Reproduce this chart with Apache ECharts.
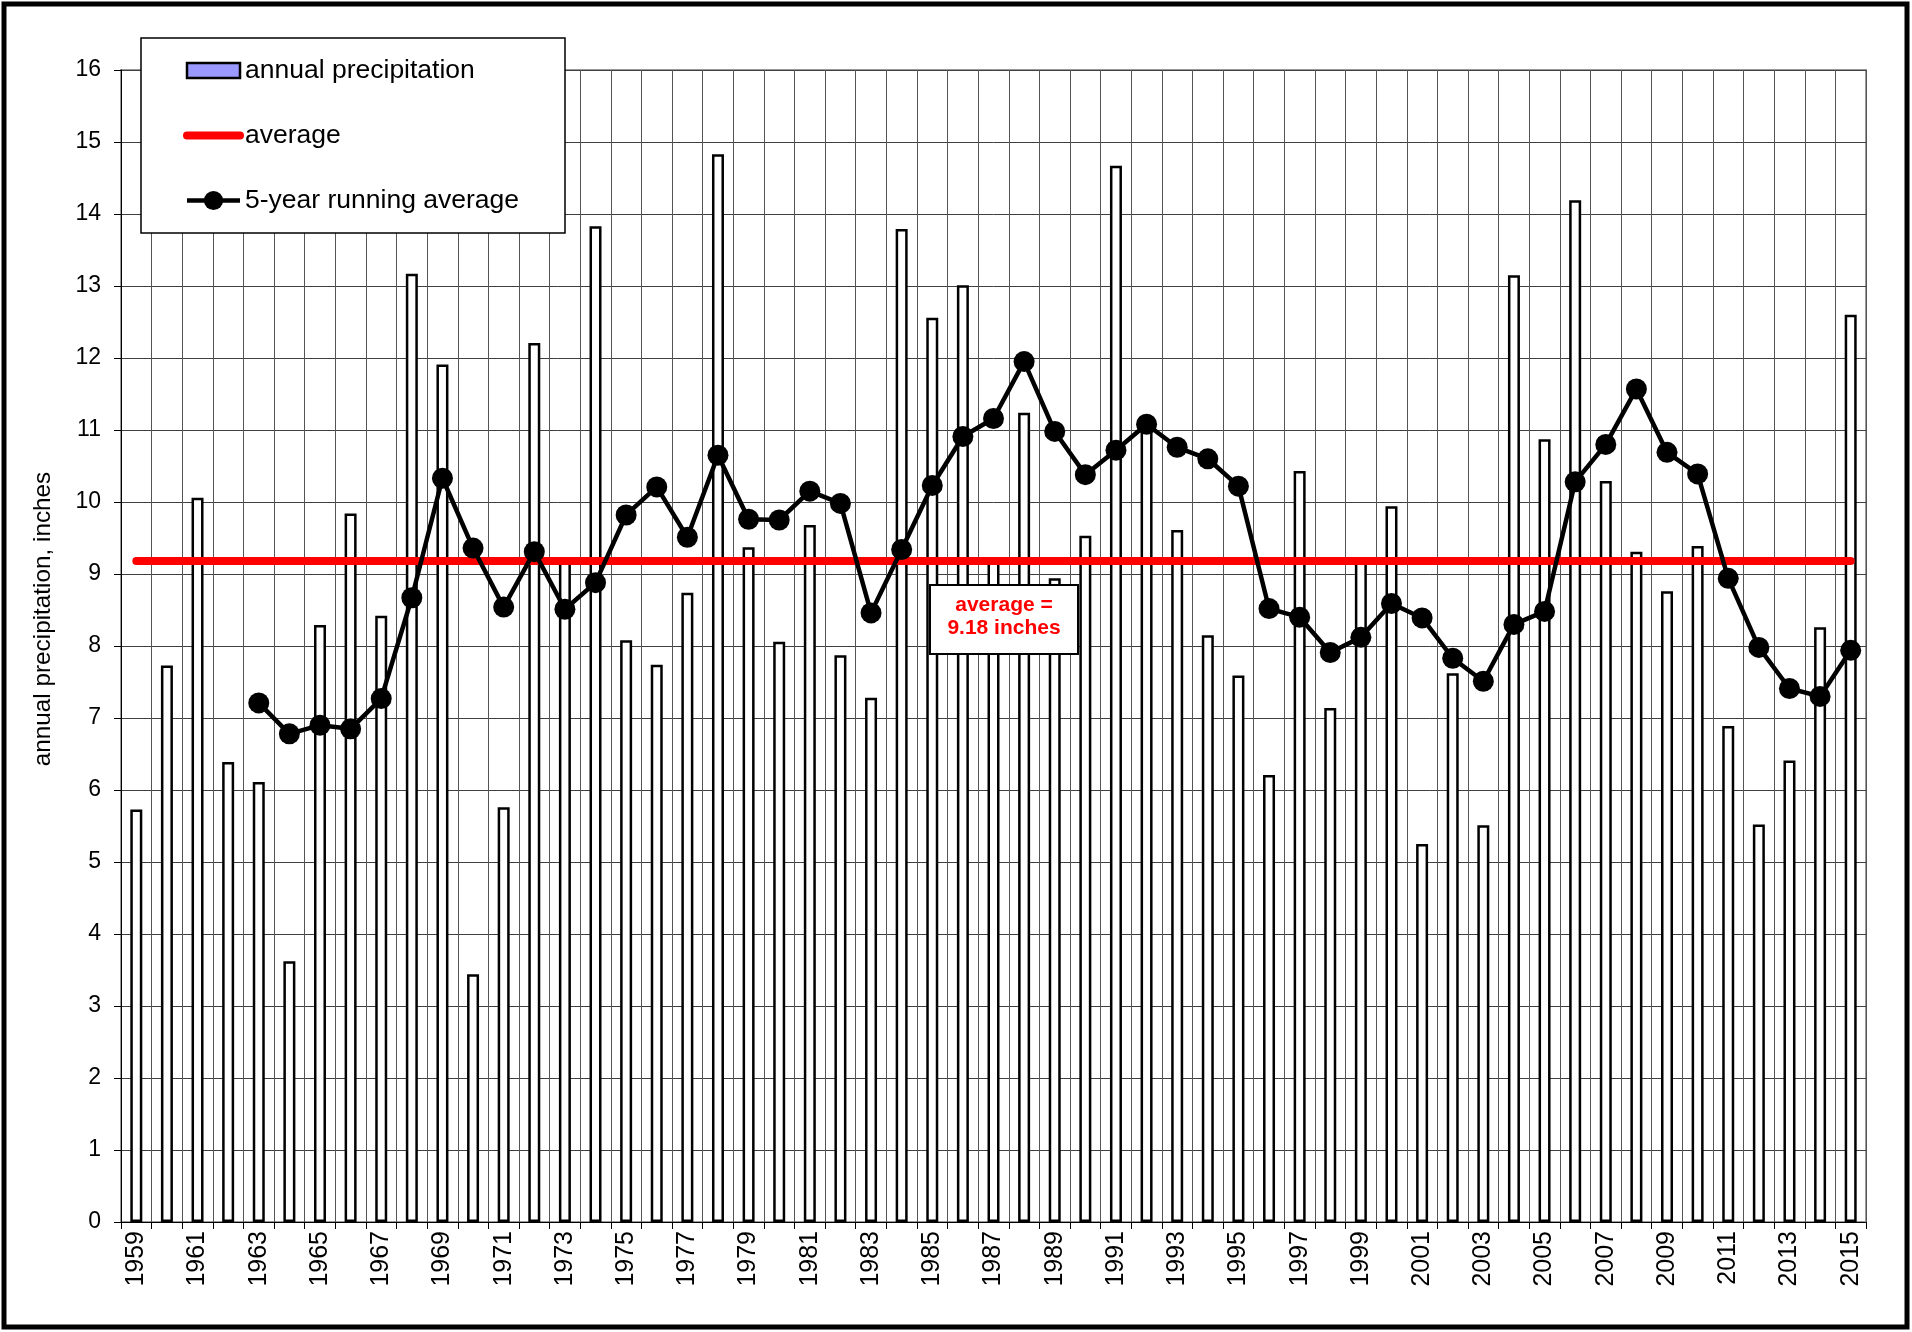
<!DOCTYPE html>
<html>
<head>
<meta charset="utf-8">
<script src="https://cdn.jsdelivr.net/npm/echarts@6/dist/echarts.min.js"></script>
<style>
  html, body { margin: 0; padding: 0; background: #fff; }
  #main { width: 1912px; height: 1332px; }
</style>
</head>
<body>
<div id="main"></div>
<script>
// years on the x axis
var years = [];
for (var y = 1959; y <= 2015; y++) years.push(String(y));

// annual precipitation, inches
var precip = [
  5.73, 7.73, 10.06, 6.39, 6.11, 3.62, 8.29, 9.84, 8.42, 13.17,
  11.91, 3.44, 5.76, 12.21, 9.2, 13.83, 8.08, 7.74, 8.74, 14.83,
  9.37, 8.06, 9.68, 7.87, 7.28, 13.79, 12.56, 13.01, 9.2, 11.24,
  8.94, 9.53, 14.67, 11.03, 9.61, 8.15, 7.59, 6.21, 10.43, 7.14,
  9.2, 9.94, 5.25, 7.62, 5.51, 13.15, 10.87, 14.19, 10.29, 9.31,
  8.76, 9.39, 6.89, 5.52, 6.41, 8.26, 12.6
];

// 5-year running average (first four years have none)
var running = [
  null, null, null, null, 7.21, 6.78, 6.90, 6.85, 7.27, 8.67,
  10.33, 9.36, 8.54, 9.31, 8.51, 8.88, 9.82, 10.21, 9.51, 10.65,
  9.76, 9.75, 10.15, 9.98, 8.46, 9.34, 10.23, 10.91, 11.16, 11.95,
  10.98, 10.38, 10.72, 11.08, 10.76, 10.60, 10.22, 8.52, 8.40, 7.91,
  8.12, 8.59, 8.39, 7.83, 7.51, 8.30, 8.48, 10.28, 10.80, 11.57,
  10.69, 10.39, 8.94, 7.98, 7.41, 7.30, 7.94
];

var avgValue = 9.18;
var average = years.map(function () { return avgValue; });

var font = "'Liberation Sans', Arial, sans-serif";

var myChart = echarts.init(document.getElementById("main"));
myChart.setOption({
  animation: false,
  backgroundColor: "#fff",
  textStyle: { fontFamily: font, color: "#000" },
  grid: {
    left: 121,
    right: 46,
    top: 70,
    bottom: 110,
    show: true,
    borderColor: "#999",
    borderWidth: 2,
  },
  legend: {
    orient: "vertical",
    left: 141,
    top: 38,
    padding: [19, 46, 19, 42],
    itemGap: 38,
    itemWidth: 53,
    itemHeight: 24,
    backgroundColor: "#fff",
    borderColor: "#000",
    borderWidth: 1.5,
    textStyle: { fontSize: 26.5, color: "#000", fontFamily: font },
    data: [
      {
        name: "annual precipitation",
        // rect 53x15 centred in the 53x24 icon box
        icon: "path://M0,0M0,4.5h53v15h-53zM53,24",
        itemStyle: { color: "#9999ff", borderColor: "#000", borderWidth: 2.5 },
      },
      {
        name: "average",
        itemStyle: { opacity: 0 },
        lineStyle: { color: "#ff0000", width: 8, cap: "round" },
      },
      {
        name: "5-year running average",
        itemStyle: { color: "#000" },
        lineStyle: { color: "#000", width: 4.5 },
      },
    ],
  },
  xAxis: {
    type: "category",
    data: years,
    boundaryGap: true,
    axisLine: { lineStyle: { color: "#000", width: 1 } },
    axisTick: { show: true, interval: 0, length: 7, lineStyle: { color: "#000" } },
    axisLabel: {
      interval: 1,
      rotate: 90,
      fontSize: 25,
      color: "#000",
      margin: 9,
      fontFamily: font,
    },
    splitLine: { show: true, interval: 0, lineStyle: { color: "#555", width: 1 } },
  },
  yAxis: {
    type: "value",
    min: 0,
    max: 16,
    interval: 1,
    name: "annual precipitation, inches",
    nameLocation: "middle",
    nameGap: 66,
    nameTextStyle: {
      fontSize: 24.3,
      color: "#000",
      fontFamily: font,
      padding: [0, 0, 0, 54],
    },
    axisLine: { show: true, lineStyle: { color: "#000", width: 1 } },
    axisTick: { show: true, length: 7, lineStyle: { color: "#000" } },
    axisLabel: { fontSize: 23, color: "#000", margin: 20, fontFamily: font },
    splitLine: { show: true, lineStyle: { color: "#404040", width: 1 } },
  },
  series: [
    {
      name: "annual precipitation",
      type: "bar",
      data: precip,
      barWidth: 12,
      z: 2,
      itemStyle: { color: "#fff", borderColor: "#000", borderWidth: 2.5 },
    },
    {
      name: "average",
      type: "line",
      data: average,
      symbol: "none",
      z: 3,
      lineStyle: { color: "#ff0000", width: 8, cap: "round" },
      itemStyle: { color: "#ff0000" },
    },
    {
      name: "5-year running average",
      type: "line",
      data: running,
      symbol: "circle",
      symbolSize: 21,
      showAllSymbol: true,
      z: 4,
      lineStyle: { color: "#000", width: 4.5 },
      itemStyle: { color: "#000" },
    },
  ],
  graphic: [
    {
      // outer frame
      type: "rect",
      shape: { x: 4, y: 4, width: 1903, height: 1323 },
      style: { fill: null, stroke: "#000", lineWidth: 5 },
      z: 100,
    },
    {
      // average label box
      type: "rect",
      shape: { x: 930, y: 585, width: 148, height: 69 },
      style: { fill: "#fff", stroke: "#000", lineWidth: 2 },
      z: 100,
    },
    {
      type: "text",
      x: 1004,
      y: 594,
      z: 101,
      style: {
        text: "average =\n9.18 inches",
        fill: "#ff0000",
        font: "bold 21px " + font,
        textAlign: "center",
        textVerticalAlign: "top",
        lineHeight: 23,
      },
    },
  ],
});
</script>
</body>
</html>
